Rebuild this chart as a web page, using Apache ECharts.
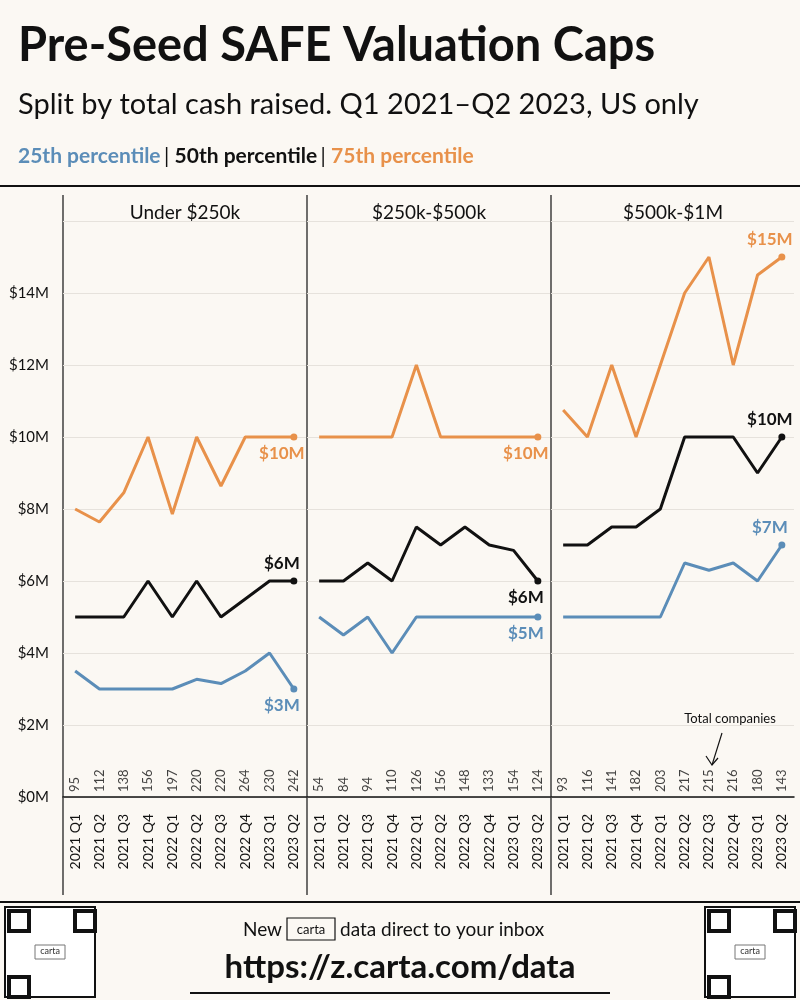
<!DOCTYPE html>
<html><head><meta charset="utf-8">
<script src="https://cdn.jsdelivr.net/npm/echarts@6/dist/echarts.min.js"></script>
<style>html,body{margin:0;background:#fbf8f3}#c{width:800px;height:1000px}</style>
</head><body><div id="c"></div>
<script>
const quarters = ['2021 Q1','2021 Q2','2021 Q3','2021 Q4','2022 Q1','2022 Q2','2022 Q3','2022 Q4','2023 Q1','2023 Q2'];
const panels = ['Under $250k','$250k-$500k','$500k-$1M'];
const p25 = [[3.5,3,3,3,3,3.27,3.15,3.5,4,3],[5,4.5,5,4,5,5,5,5,5,5],[5,5,5,5,5,6.5,6.3,6.5,6,7]];
const p50 = [[5,5,5,6,5,6,5,5.5,6,6],[6,6,6.5,6,7.5,7,7.5,7,6.85,6],[7,7,7.5,7.5,8,10,10,10,9,10]];
const p75 = [[8,7.64,8.45,10,7.86,10,8.64,10,10,10],[10,10,10,10,12,10,10,10,10,10],[10.75,10,12,10,12,14,15,12,14.5,15]];
const counts = [[95,112,138,156,197,220,220,264,230,242],[54,84,94,110,126,156,148,133,154,124],[93,116,141,182,203,217,215,216,180,143]];
const endText = [['$3M','$6M','$10M'],['$5M','$6M','$10M'],['$7M','$10M','$15M']];
const endPos = [['bottom','top','bottom'],['bottom','bottom','bottom'],['top','top','top']];
const colors = ['#5b8db8','#111111','#e8914a'];
const F = 'Lato, "Noto Sans", sans-serif';
const ch = echarts.init(document.getElementById('c'));
const lefts = [63,307,551], widths = [243,243,243];
const grid=[], xAxis=[], yAxis=[], series=[];
panels.forEach((p,i)=>{
  grid.push({left:lefts[i],width:widths[i],top:221,height:576});
  xAxis.push({type:'category',gridIndex:i,data:quarters,offset:11,axisLine:{lineStyle:{color:'#111',width:1.5}},axisTick:{show:false},
    axisLabel:{rotate:90,color:'#111',fontFamily:F,fontSize:14,margin:6}});
  yAxis.push({type:'value',gridIndex:i,min:0,max:16,interval:2,axisLine:{show:false},axisTick:{show:false},
    splitLine:{lineStyle:{color:'#e6e2dc'}},axisLabel:{show:i===0,formatter:v=>v>=16?'':'$'+v+'M',color:'#111',fontFamily:F,fontSize:15,margin:14}});
  [p25[i],p50[i],p75[i]].forEach((arr,k)=>{
    series.push({type:'line',xAxisIndex:i,yAxisIndex:i,symbol:'circle',symbolSize:0,lineStyle:{color:colors[k],width:3},itemStyle:{color:colors[k]},
      data:arr.map((v,j)=>j===arr.length-1?{value:v,symbolSize:7,label:{show:true,position:endPos[i][k],offset:[-12,0],formatter:endText[i][k],color:colors[k],fontFamily:F,fontWeight:'bold',fontSize:17}}:v),z:k===1?3:2});
  });
  series.push({type:'scatter',xAxisIndex:i,yAxisIndex:i,symbolSize:0,silent:true,
    data:counts[i].map(c=>0),label:{show:true,position:[0,-5],rotate:90,align:'left',verticalAlign:'middle',color:'#111',fontFamily:F,fontSize:13,
    formatter:pp=>String(counts[i][pp.dataIndex])}});
});
const g=[
  {type:'text',left:18,top:22,style:{text:'Pre-Seed SAFE Valuation Caps',font:'bold 47px '+F,fill:'#111'}},
  {type:'text',left:18,top:90,style:{text:'Split by total cash raised. Q1 2021–Q2 2023, US only',font:'29px '+F,fill:'#111'}},
  {type:'text',left:18,top:146,style:{rich:{a:{fill:'#5b8db8',font:'bold 21px '+F},b:{fill:'#111',font:'bold 21px '+F},c:{fill:'#e8914a',font:'bold 21px '+F},s:{fill:'#111',font:'21px '+F}},
    text:'{a|25th percentile} {s|| }{b|50th percentile} {s|| }{c|75th percentile}'}},
  {type:'line',shape:{x1:0,y1:186,x2:800,y2:186},style:{stroke:'#111',lineWidth:2}},
  {type:'line',shape:{x1:0,y1:902,x2:800,y2:902},style:{stroke:'#111',lineWidth:2}},
  {type:'text',x:730,y:712,style:{text:'Total companies',font:'13px '+F,fill:'#111',align:'center'}},
  {type:'polyline',shape:{points:[[722,733],[712,765]]},style:{stroke:'#111',lineWidth:1.2,fill:null}},
  {type:'polyline',shape:{points:[[706,756],[712,765],[718,758]]},style:{stroke:'#111',lineWidth:1.2,fill:null}},
  {type:'text',x:282,y:920,style:{text:'New',font:'19px '+F,fill:'#111',align:'right'}},
  {type:'rect',shape:{x:287,y:918,width:48,height:22},style:{stroke:'#111',fill:'none',lineWidth:1.2}},
  {type:'text',x:311,y:923,style:{text:'carta',font:'13px '+F,fill:'#111',align:'center'}},
  {type:'text',x:340,y:920,style:{text:'data direct to your inbox',font:'19px '+F,fill:'#111'}},
  {type:'text',x:400,y:951,style:{text:'https://z.carta.com/data',font:'bold 33px '+F,fill:'#111',align:'center'}},
  {type:'line',shape:{x1:190,y1:993,x2:610,y2:993},style:{stroke:'#111',lineWidth:2}}
];
lefts.forEach((l,i)=>{
  g.push({type:'line',shape:{x1:l,y1:195,x2:l,y2:895},style:{stroke:'#111',lineWidth:1.2}});
  g.push({type:'text',x:l+122,y:203,style:{text:panels[i],font:'19px '+F,fill:'#111',align:'center'}});
});
[[5,907],[705,907]].forEach(([x,y])=>{
  g.push({type:'rect',shape:{x,y,width:90,height:90},style:{fill:'#fff',stroke:'#111',lineWidth:2}});
  [[0,0],[66,0],[0,66]].forEach(([dx,dy])=>g.push({type:'rect',shape:{x:x+4+dx,y:y+4+dy,width:20,height:20},style:{fill:'none',stroke:'#111',lineWidth:4}}));
  g.push({type:'rect',shape:{x:x+30,y:y+38,width:30,height:14},style:{fill:'#fff',stroke:'#777'}});
  g.push({type:'text',x:x+45,y:y+40,style:{text:'carta',font:'9px '+F,fill:'#333',align:'center'}});
});
ch.setOption({backgroundColor:'#fbf8f3',animation:false,grid,xAxis,yAxis,series,graphic:g});
</script></body></html>
